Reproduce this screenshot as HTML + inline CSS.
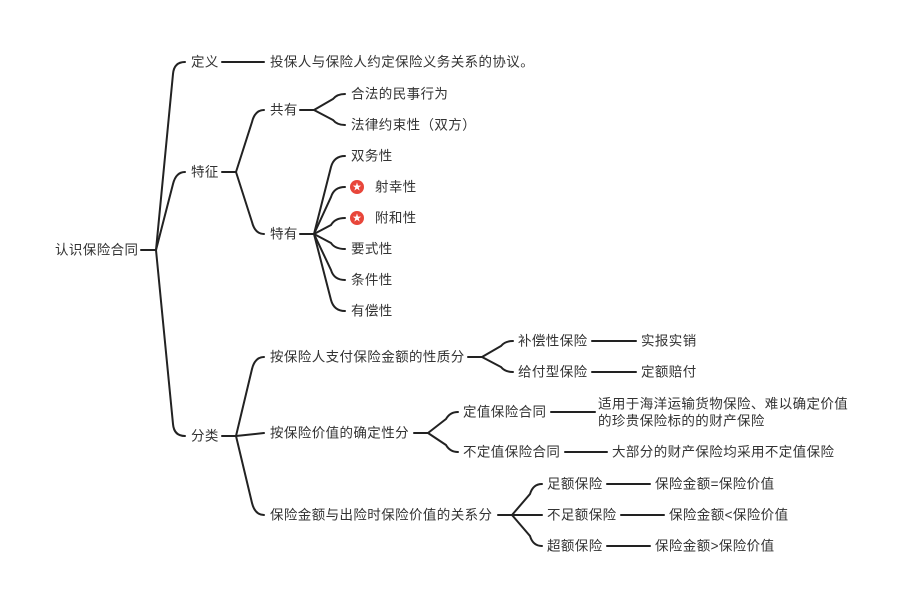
<!DOCTYPE html>
<html><head><meta charset="utf-8"><style>
html,body{margin:0;padding:0;background:#fff;}
svg{display:block;}
text{font-family:"Liberation Sans","Noto Sans CJK SC",sans-serif;font-size:13.5px;letter-spacing:0.4px;fill:#333;dominant-baseline:central;}
path,line{stroke:#222;stroke-width:2;fill:none;stroke-linecap:round;}
</style></head><body>
<svg width="907" height="609" viewBox="0 0 907 609">
<g>
<line x1="141" y1="250" x2="156" y2="250"/>
<path d="M156,250 L173,74 Q174,62 185,62"/>
<path d="M156,250 L173,184 Q176,172 185,172"/>
<path d="M156,250 L173,424 Q174,436 185,436"/>
<line x1="222" y1="62" x2="264" y2="62"/>
<line x1="222" y1="172" x2="236" y2="172"/>
<path d="M236,172 L252,122 Q255,110 264,110"/>
<path d="M236,172 L252,222 Q255,234 264,234"/>
<line x1="300" y1="110" x2="314" y2="110"/>
<path d="M314,110 L333,99 Q337,94 345,94"/>
<path d="M314,110 L333,120 Q337,125 345,125"/>
<line x1="300" y1="234" x2="314" y2="234"/>
<path d="M314,234 L331,167 Q334,156 345,156"/>
<path d="M314,234 L331,197 Q334,187 345,187"/>
<path d="M314,234 L331,225 Q335,218 345,218"/>
<path d="M314,234 L331,243 Q335,249 345,249"/>
<path d="M314,234 L331,270 Q334,280 345,280"/>
<path d="M314,234 L331,300 Q334,311 345,311"/>
<line x1="222" y1="436" x2="236" y2="436"/>
<path d="M236,436 L252,369 Q255,357 264,357"/>
<path d="M236,436 L264,433"/>
<path d="M236,436 L252,503 Q255,515 264,515"/>
<line x1="468" y1="357" x2="482" y2="357"/>
<path d="M482,357 L501,346 Q505,341 513,341"/>
<path d="M482,357 L501,367 Q505,372 513,372"/>
<line x1="592" y1="341" x2="636" y2="341"/>
<line x1="592" y1="372" x2="636" y2="372"/>
<line x1="414" y1="433" x2="428" y2="433"/>
<path d="M428,433 L446,419 Q450,412 458,412"/>
<path d="M428,433 L446,445 Q450,452 458,452"/>
<line x1="551" y1="412" x2="595" y2="412"/>
<line x1="565" y1="452" x2="607" y2="452"/>
<line x1="498" y1="515" x2="512" y2="515"/>
<path d="M512,515 L530,494 Q533,484 542,484"/>
<line x1="512" y1="515" x2="542" y2="515"/>
<path d="M512,515 L530,536 Q533,546 542,546"/>
<line x1="607" y1="484" x2="650" y2="484"/>
<line x1="621" y1="515" x2="664" y2="515"/>
<line x1="607" y1="546" x2="650" y2="546"/>
</g>
<g>
<text x="55" y="250">认识保险合同</text>
<text x="191" y="62">定义</text>
<text x="270" y="62">投保人与保险人约定保险义务关系的协议。</text>
<text x="191" y="172">特征</text>
<text x="270" y="110">共有</text>
<text x="351" y="94">合法的民事行为</text>
<text x="351" y="125">法律约束性（双方）</text>
<text x="270" y="234">特有</text>
<text x="351" y="156">双务性</text>
<circle cx="357" cy="187" r="7" fill="#e8463a"/>
<text x="357" y="187" text-anchor="middle" style="fill:#fff;font-size:9px;letter-spacing:0">★</text>
<text x="375" y="187">射幸性</text>
<circle cx="357" cy="218" r="7" fill="#e8463a"/>
<text x="357" y="218" text-anchor="middle" style="fill:#fff;font-size:9px;letter-spacing:0">★</text>
<text x="375" y="218">附和性</text>
<text x="351" y="249">要式性</text>
<text x="351" y="280">条件性</text>
<text x="351" y="311">有偿性</text>
<text x="191" y="436">分类</text>
<text x="270" y="357">按保险人支付保险金额的性质分</text>
<text x="518" y="341">补偿性保险</text>
<text x="641" y="341">实报实销</text>
<text x="518" y="372">给付型保险</text>
<text x="641" y="372">定额赔付</text>
<text x="270" y="433">按保险价值的确定性分</text>
<text x="463" y="412">定值保险合同</text>
<text x="598" y="404">适用于海洋运输货物保险、难以确定价值</text>
<text x="598" y="421">的珍贵保险标的的财产保险</text>
<text x="463" y="452">不定值保险合同</text>
<text x="612" y="452">大部分的财产保险均采用不定值保险</text>
<text x="270" y="515">保险金额与出险时保险价值的关系分</text>
<text x="547" y="484">足额保险</text>
<text x="655" y="484">保险金额=保险价值</text>
<text x="547" y="515">不足额保险</text>
<text x="669" y="515">保险金额&lt;保险价值</text>
<text x="547" y="546">超额保险</text>
<text x="655" y="546">保险金额&gt;保险价值</text>
</g>
</svg>
</body></html>
